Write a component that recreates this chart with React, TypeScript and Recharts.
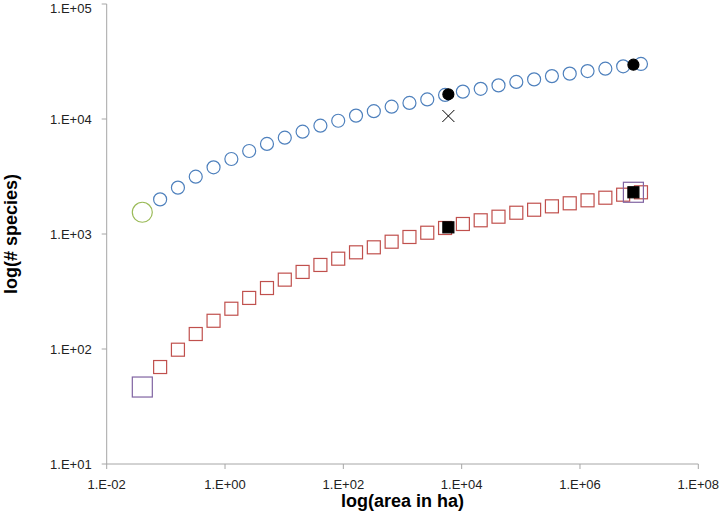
import React from 'react';
import { ScatterChart, Scatter, XAxis, YAxis, Label } from 'recharts';

// area (ha) doubles from one sample to the next
const areaHa = [
  0.04, 0.08, 0.16, 0.32, 0.64, 1.28, 2.56, 5.12, 10.24, 20.48, 40.96, 81.92,
  163.84, 327.68, 655.36, 1310.72, 2621.44, 5242.88, 10485.76, 20971.52,
  41943.04, 83886.08, 167772.16, 335544.32, 671088.64, 1342177.28,
  2684354.56, 5368709.12, 10737418.24,
];

// blue circles (from the 2nd area onwards)
const circleSpecies = [
  2000, 2530, 3150, 3800, 4490, 5270, 6070, 6880, 7760, 8750, 9660, 10700,
  11700, 12800, 13800, 14800, 16200, 17300, 18300, 19600, 21000, 22100,
  23600, 24800, 26100, 27400, 28700, 30100,
];

// red squares (from the 2nd area onwards)
const squareSpecies = [
  69.7, 98.6, 135, 176, 224, 278, 339, 401, 468, 538, 610, 693, 766, 857,
  942, 1026, 1128, 1222, 1316, 1414, 1531, 1626, 1740, 1849, 1963, 2068,
  2197, 2305,
];

// highlighted points
const startCircleSpecies = 1545;
const startSquareSpecies = 46.7;
const markedArea = [5960, 8000000];
const markedCircleSpecies = [16400, 29650];
const markedSquareSpecies = [1143, 2306];
const crossArea = 5960;
const crossSpecies = 10620;
const bigSquareArea = [0.04, 8000000];
const bigSquareSpecies = [startSquareSpecies, 2306];

const xTicks = [0.01, 1, 100, 10000, 1000000, 100000000];
const yTicks = [10, 100, 1000, 10000, 100000];

const blueData = circleSpecies.map((y, i) => ({ x: areaHa[i + 1], y }));
const redData = squareSpecies.map((y, i) => ({ x: areaHa[i + 1], y }));
const greenData = [{ x: areaHa[0], y: startCircleSpecies }];
const purpleData = bigSquareArea.map((x, i) => ({ x, y: bigSquareSpecies[i] }));
const blackCircleData = markedArea.map((x, i) => ({ x, y: markedCircleSpecies[i] }));
const blackSquareData = markedArea.map((x, i) => ({ x, y: markedSquareSpecies[i] }));
const crossData = [{ x: crossArea, y: crossSpecies }];

const fmtExp = (v: number) => {
  const e = Math.round(Math.log10(v));
  const s = String(Math.abs(e)).padStart(2, '0');
  return `1.E${e < 0 ? '-' : '+'}${s}`;
};

const circle = (r: number, stroke: string, fill = 'none') => (p: any) => (
  <circle cx={p.cx} cy={p.cy} r={r} stroke={stroke} strokeWidth={1.2} fill={fill} />
);

const square = (size: number, stroke: string, fill = 'none') => (p: any) => (
  <rect
    x={p.cx - size / 2}
    y={p.cy - size / 2}
    width={size}
    height={size}
    stroke={stroke}
    strokeWidth={1.2}
    fill={fill}
  />
);

const cross = (p: any) => (
  <g stroke="#000" strokeWidth={1}>
    <line x1={p.cx - 6} y1={p.cy - 6} x2={p.cx + 6} y2={p.cy + 6} />
    <line x1={p.cx - 6} y1={p.cy + 6} x2={p.cx + 6} y2={p.cy - 6} />
  </g>
);

const tickStyle = { fontSize: 13, fill: '#222' };
const titleStyle = { fontSize: 18, fontWeight: 'bold', fill: '#000' };

export default function App() {
  return (
    <div
      style={{
        position: 'absolute',
        left: 0,
        top: 0,
        background: '#fff',
        fontFamily: '"Liberation Sans", Arial, sans-serif',
      }}
    >
      <ScatterChart
        width={720}
        height={523}
        margin={{ top: 4, right: 21.7, bottom: 0, left: 0 }}
      >
        <XAxis
          type="number"
          dataKey="x"
          scale="log"
          domain={[0.01, 100000000]}
          ticks={xTicks}
          allowDataOverflow
          tickFormatter={fmtExp}
          height={59}
          stroke="#a6a6a6"
          tick={tickStyle}
          tickSize={5}
          tickMargin={11}
        >
          <Label value="log(area in ha)" position="insideBottom" offset={16} style={titleStyle} />
        </XAxis>
        <YAxis
          type="number"
          dataKey="y"
          scale="log"
          domain={[10, 100000]}
          ticks={yTicks}
          allowDataOverflow
          tickFormatter={fmtExp}
          width={106.7}
          stroke="#a6a6a6"
          tick={tickStyle}
          tickSize={5}
          tickMargin={10}
        >
          <Label
            value="log(# species)"
            angle={-90}
            position="insideLeft"
            offset={11}
            style={{ ...titleStyle, textAnchor: 'middle' }}
          />
        </YAxis>
        <Scatter data={blueData} shape={circle(6.5, '#4f81bd')} isAnimationActive={false} />
        <Scatter data={greenData} shape={circle(10, '#9bbb59')} isAnimationActive={false} />
        <Scatter data={redData} shape={square(13, '#c0504d')} isAnimationActive={false} />
        <Scatter data={purpleData} shape={square(20, '#8064a2')} isAnimationActive={false} />
        <Scatter data={blackCircleData} shape={circle(5.5, '#000', '#000')} isAnimationActive={false} />
        <Scatter data={blackSquareData} shape={square(11, '#000', '#000')} isAnimationActive={false} />
        <Scatter data={crossData} shape={cross} isAnimationActive={false} />
      </ScatterChart>
    </div>
  );
}
